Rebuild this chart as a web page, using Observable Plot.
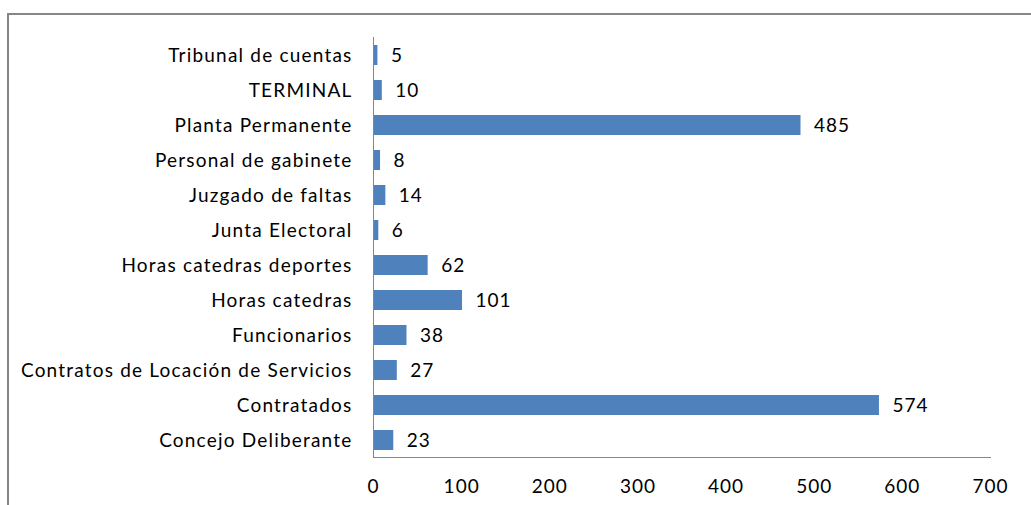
<!DOCTYPE html>
<html><head><meta charset="utf-8">
<script src="https://cdn.jsdelivr.net/npm/d3@7"></script>
<script src="https://cdn.jsdelivr.net/npm/@observablehq/plot@0.6"></script>
<style>
html,body{margin:0;padding:0;background:#fff;overflow:hidden}
#wrap{position:relative;width:1031px;height:505px}
#border{position:absolute;left:7px;top:13px;width:1100px;height:600px;border-left:2px solid #868686;border-top:2px solid #868686;pointer-events:none}
svg text{letter-spacing:1px}
svg g[aria-label="y-axis tick label"] text{letter-spacing:1.2px}
</style></head>
<body><div id="wrap"><div id="border"></div></div>
<script>
const categories = ["Tribunal de cuentas","TERMINAL","Planta Permanente","Personal de gabinete","Juzgado de faltas","Junta Electoral","Horas catedras deportes","Horas catedras","Funcionarios","Contratos de Locación de Servicios","Contratados","Concejo Deliberante"];
const values = [5,10,485,8,14,6,62,101,38,27,574,23];
const xTicks = [0,100,200,300,400,500,600,700];

const data = categories.map((c,i)=>({cat:c, v:values[i]}));

const chart = Plot.plot({
  width:1031, height:505,
  marginLeft:373, marginRight:41, marginTop:37, marginBottom:48,
  style:{fontFamily:"Lato, 'Open Sans', sans-serif", fontSize:"19px", color:"#000", background:"transparent", overflow:"visible"},
  x:{domain:[0,700], ticks:xTicks, label:null},
  y:{domain:categories, label:null, paddingInner:0.43, paddingOuter:0.215},
  marks:[
    Plot.barX(data,{x:"v", y:"cat", fill:"#4F81BD"}),
    Plot.text(data,{x:"v", y:"cat", text:d=>String(d.v), textAnchor:"start", dx:13, fill:"#000", fontSize:19}),
    Plot.frame({anchor:"left", stroke:"#868686"}),
    Plot.frame({anchor:"bottom", stroke:"#868686"}),
    Plot.axisX({ticks:xTicks, tickSize:0, tickPadding:22, label:null, fontSize:19}),
    Plot.axisY({tickSize:0, tickPadding:21, label:null, fontSize:19})
  ]
});
chart.style.position="absolute";chart.style.left="0";chart.style.top="0";
document.getElementById("wrap").prepend(chart);
</script>
</body></html>
